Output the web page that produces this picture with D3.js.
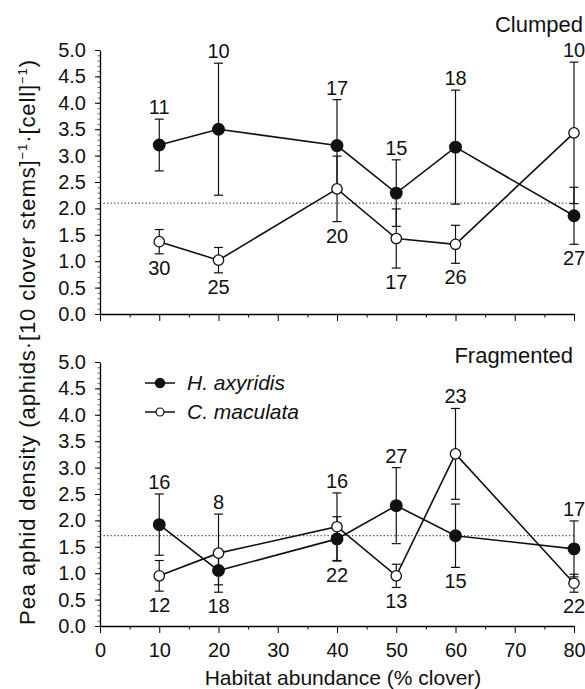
<!DOCTYPE html>
<html>
<head>
<meta charset="utf-8">
<script src="https://cdn.jsdelivr.net/npm/d3@7"></script>
<style>
body { margin: 0; background: #fff; }
text { font-family: "Liberation Sans", Arial, sans-serif; fill: #111; }
</style>
</head>
<body>
<div id="viz"></div>
<script>
// x values (% clover)
var habitat = [10, 20, 40, 50, 60, 80];

// Clumped panel
var clumpedHaxMean = [3.20, 3.50, 3.19, 2.29, 3.16, 1.86];
var clumpedHaxSE = [0.49, 1.25, 0.87, 0.63, 1.08, 0.54];
var clumpedHaxN = [11, 10, 17, 15, 18, 27];
var clumpedCmaMean = [1.37, 1.02, 2.37, 1.43, 1.32, 3.43];
var clumpedCmaSE = [0.23, 0.24, 0.62, 0.56, 0.36, 1.34];
var clumpedCmaN = [30, 25, 20, 17, 26, 10];
var clumpedOverall = 2.10;

// Fragmented panel
var fragHaxMean = [1.92, 1.05, 1.65, 2.28, 1.71, 1.46];
var fragHaxSE = [0.58, 0.27, 0.42, 0.72, 0.60, 0.53];
var fragHaxN = [16, 18, 22, 27, 15, 17];
var fragCmaMean = [0.95, 1.38, 1.88, 0.95, 3.26, 0.81];
var fragCmaSE = [0.29, 0.74, 0.64, 0.22, 0.86, 0.17];
var fragCmaN = [12, 8, 16, 13, 23, 22];
var fragOverall = 1.71;

var xTicks = [0, 10, 20, 30, 40, 50, 60, 70, 80];
var yTicks = [0, 0.5, 1, 1.5, 2, 2.5, 3, 3.5, 4, 4.5, 5];
var seriesNames = ["H. axyridis", "C. maculata"];

var W = 585, H = 689;

var svg = d3.select("#viz")
    .append("svg")
    .attr("width", W)
    .attr("height", H);

var x = d3.scaleLinear()
    .domain([0, 80])
    .range([100, 574]);

function toPoints(mean, se, n) {
    return habitat.map(function (h, i) {
        return {x: h, m: mean[i], se: se[i], n: n[i]};
    });
}

function drawPanel(p) {
    var y = d3.scaleLinear()
        .domain([0, 5])
        .range([p.bottom, p.top]);

    var g = svg.append("g");

    // minor y ticks
    g.append("g")
        .attr("transform", "translate(100,0)")
        .call(d3.axisLeft(y).tickValues(d3.range(0, 5.001, 0.1)).tickSize(2.5).tickSizeOuter(0).tickFormat(""))
        .call(function (a) { a.select(".domain").remove(); a.selectAll("line").attr("stroke", "#666"); });

    // y axis
    var ya = g.append("g")
        .attr("transform", "translate(100,0)")
        .call(d3.axisLeft(y).tickValues(yTicks).tickSize(5).tickSizeOuter(0).tickPadding(9)
            .tickFormat(d3.format(".1f")));
    ya.selectAll("text").attr("font-size", 20).attr("font-family", null);
    ya.select(".domain").attr("stroke-width", 1.3);

    // minor x ticks
    g.append("g")
        .attr("transform", "translate(0," + p.bottom + ")")
        .call(d3.axisBottom(x).tickValues(d3.range(5, 80, 10)).tickSize(3.5).tickFormat(""))
        .call(function (a) { a.select(".domain").remove(); });

    // x axis
    var xa = g.append("g")
        .attr("transform", "translate(0," + p.bottom + ")")
        .call(d3.axisBottom(x).tickValues(xTicks).tickSize(7).tickSizeOuter(0).tickPadding(10)
            .tickFormat(p.xLabels ? d3.format("d") : ""));
    xa.selectAll("text").attr("font-size", 20).attr("font-family", null);
    xa.select(".domain").attr("stroke-width", 1.3);

    // overall mean (dotted)
    g.append("line")
        .attr("x1", x(0)).attr("x2", x(80))
        .attr("y1", y(p.overall)).attr("y2", y(p.overall))
        .attr("stroke", "#222")
        .attr("stroke-width", 1)
        .attr("stroke-dasharray", "1.3,2.2");

    var hax = toPoints(p.haxMean, p.haxSE, p.haxN);
    var cma = toPoints(p.cmaMean, p.cmaSE, p.cmaN);

    var line = d3.line()
        .x(function (d) { return x(d.x); })
        .y(function (d) { return y(d.m); });

    [hax, cma].forEach(function (s) {
        g.append("path")
            .datum(s)
            .attr("fill", "none")
            .attr("stroke", "#111")
            .attr("stroke-width", 1.6)
            .attr("d", line);
    });

    // error bars
    [hax, cma].forEach(function (s) {
        var eb = g.append("g").selectAll("g")
            .data(s)
            .enter().append("g")
            .attr("stroke", "#111")
            .attr("stroke-width", 1.2);
        eb.append("line")
            .attr("x1", function (d) { return x(d.x); })
            .attr("x2", function (d) { return x(d.x); })
            .attr("y1", function (d) { return y(d.m + d.se); })
            .attr("y2", function (d) { return y(d.m - d.se); });
        eb.append("line")
            .attr("x1", function (d) { return x(d.x) - 4.5; })
            .attr("x2", function (d) { return x(d.x) + 4.5; })
            .attr("y1", function (d) { return y(d.m + d.se); })
            .attr("y2", function (d) { return y(d.m + d.se); });
        eb.append("line")
            .attr("x1", function (d) { return x(d.x) - 4.5; })
            .attr("x2", function (d) { return x(d.x) + 4.5; })
            .attr("y1", function (d) { return y(d.m - d.se); })
            .attr("y2", function (d) { return y(d.m - d.se); });
    });

    // markers
    [hax, cma].forEach(function (s, k) {
        g.append("g").selectAll("circle")
            .data(s)
            .enter().append("circle")
            .attr("cx", function (d) { return x(d.x); })
            .attr("cy", function (d) { return y(d.m); })
            .attr("r", k === 0 ? 5.8 : 5.2)
            .attr("fill", k === 0 ? "#111" : "#fff")
            .attr("stroke", "#111")
            .attr("stroke-width", 1.3);
    });

    // sample sizes: higher series above the topmost bar, lower one below the lowest bar
    [hax, cma].forEach(function (s, k) {
        var other = k === 0 ? cma : hax;
        g.append("g").selectAll("text")
            .data(s)
            .enter().append("text")
            .attr("text-anchor", "middle")
            .attr("font-size", 20)
            .attr("x", function (d) { return x(d.x); })
            .attr("y", function (d, i) {
                var o = other[i];
                if (d.m >= o.m) return y(Math.max(d.m + d.se, o.m + o.se)) - 5;
                return y(Math.min(d.m - d.se, o.m - o.se)) + 21;
            })
            .text(function (d) { return d.n; });
    });

    g.append("text")
        .attr("x", p.titleX)
        .attr("y", p.titleY)
        .attr("text-anchor", "end")
        .attr("font-size", 22)
        .text(p.title);
}

drawPanel({
    top: 50, bottom: 314, xLabels: false, overall: clumpedOverall,
    haxMean: clumpedHaxMean, haxSE: clumpedHaxSE, haxN: clumpedHaxN,
    cmaMean: clumpedCmaMean, cmaSE: clumpedCmaSE, cmaN: clumpedCmaN,
    title: "Clumped", titleX: 583, titleY: 32
});

drawPanel({
    top: 362, bottom: 626, xLabels: true, overall: fragOverall,
    haxMean: fragHaxMean, haxSE: fragHaxSE, haxN: fragHaxN,
    cmaMean: fragCmaMean, cmaSE: fragCmaSE, cmaN: fragCmaN,
    title: "Fragmented", titleX: 573, titleY: 363
});

// legend
var legend = svg.append("g").attr("transform", "translate(145,383)");
seriesNames.forEach(function (name, k) {
    var row = legend.append("g").attr("transform", "translate(0," + (k * 29) + ")");
    row.append("line")
        .attr("x1", 0).attr("x2", 30)
        .attr("stroke", "#111").attr("stroke-width", 1.5);
    row.append("circle")
        .attr("cx", 15).attr("cy", 0)
        .attr("r", k === 0 ? 4.6 : 4)
        .attr("fill", k === 0 ? "#111" : "#fff")
        .attr("stroke", "#111").attr("stroke-width", 1.2);
    row.append("text")
        .attr("x", 42).attr("y", 0).attr("dy", "0.35em")
        .attr("font-size", 21)
        .attr("font-style", "italic")
        .text(name);
});

// axis titles
svg.append("text")
    .attr("x", 343)
    .attr("y", 685)
    .attr("text-anchor", "middle")
    .attr("font-size", 21)
    .text("Habitat abundance (% clover)");

var yl = svg.append("text")
    .attr("transform", "translate(35,342) rotate(-90)")
    .attr("text-anchor", "middle")
    .attr("font-size", 22)
    .attr("letter-spacing", 0.9);
yl.append("tspan").text("Pea aphid density (aphids\u00b7[10 clover stems]");
yl.append("tspan").attr("dy", -8).attr("font-size", 13).text("\u22121");
yl.append("tspan").attr("dy", 8).text("\u00b7[cell]");
yl.append("tspan").attr("dy", -8).attr("font-size", 13).text("\u22121");
yl.append("tspan").attr("dy", 8).text(")");
</script>
</body>
</html>
